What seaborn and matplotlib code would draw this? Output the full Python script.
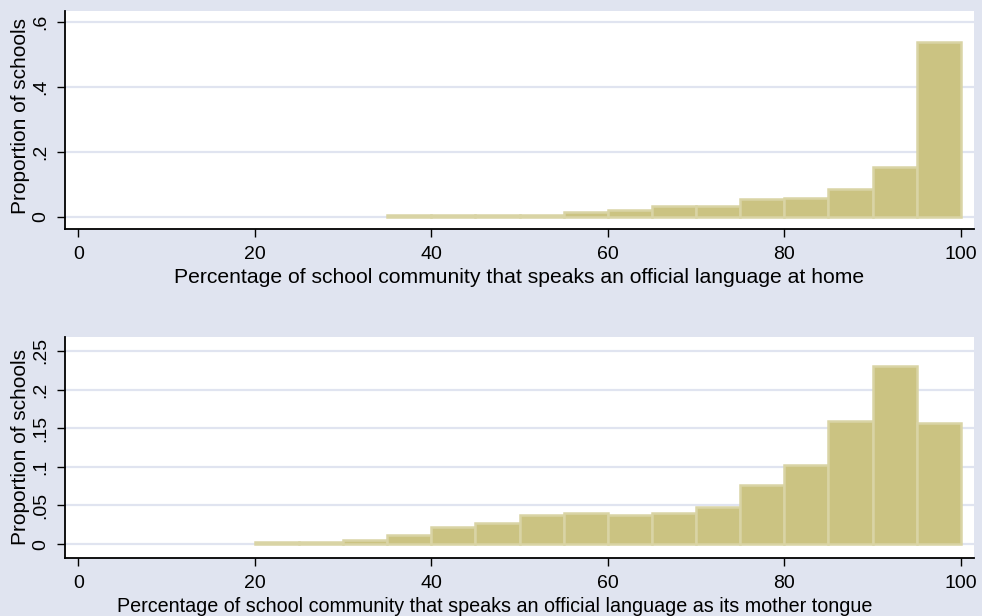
import numpy as np
import pandas as pd
import matplotlib
matplotlib.use("Agg")
import matplotlib.pyplot as plt
import seaborn as sns

# Share of schools per 5-point bin of the school community's language profile
home_bin_start = [35, 40, 45, 50, 55, 60, 65, 70, 75, 80, 85, 90, 95]
home_props = [0.005, 0.005, 0.005, 0.005, 0.015, 0.022, 0.035, 0.035,
              0.055, 0.060, 0.085, 0.155, 0.540]

mother_bin_start = [20, 25, 30, 35, 40, 45, 50, 55, 60, 65, 70, 75, 80, 85, 90, 95]
mother_props = [0.003, 0.003, 0.005, 0.012, 0.022, 0.027, 0.037, 0.040,
                0.037, 0.040, 0.048, 0.076, 0.102, 0.159, 0.230, 0.157]

bin_width = 5
x_ticks = [0, 20, 40, 60, 80, 100]
home_yticks = [0, 0.2, 0.4, 0.6]
home_yticklabels = ["0", ".2", ".4", ".6"]
mother_yticks = [0, 0.05, 0.10, 0.15, 0.20, 0.25]
mother_yticklabels = ["0", ".05", ".1", ".15", ".2", ".25"]

home_xlabel = "Percentage of school community that speaks an official language at home"
mother_xlabel = "Percentage of school community that speaks an official language as its mother tongue"
ylabel = "Proportion of schools"

BG = "#E0E4F0"
FILL = "#CBC382"
EDGE = "#D9D4A5"
TICK_SIZE = 14
YLABEL_SIZE = 15

sns.set_theme(style="white")
plt.rcParams["font.family"] = ["Liberation Sans", "DejaVu Sans"]

fig = plt.figure(figsize=(9.82, 6.16), dpi=100, facecolor=BG)
ax1 = fig.add_axes([0.0662, 0.6282, 0.9257, 0.3539])
ax2 = fig.add_axes([0.0662, 0.0942, 0.9257, 0.3587])


def draw_panel(ax, starts, props, yticks, yticklabels, ylim,
               xlabel, xlabel_size, xlabel_xy, ylabel_y):
    df = pd.DataFrame({"value": np.array(starts, dtype=float) + bin_width / 2,
                       "prop": props})
    ax.set_facecolor("white")
    ax.set_axisbelow(True)
    ax.grid(axis="y", color=BG, linewidth=1.6)
    ax.grid(axis="x", visible=False)
    sns.histplot(data=df, x="value", weights="prop", binwidth=bin_width,
                 binrange=(starts[0], starts[-1] + bin_width), ax=ax,
                 color=FILL, alpha=1, edgecolor=EDGE, linewidth=1.8,
                 stat="count", zorder=2)
    ax.set_xlim(-1.5, 101.5)
    ax.set_ylim(*ylim)
    ax.set_xticks(x_ticks)
    ax.set_xticklabels([str(t) for t in x_ticks])
    ax.set_yticks(yticks)
    ax.set_yticklabels(yticklabels, rotation=90, va="center")
    for side in ("top", "right"):
        ax.spines[side].set_visible(False)
    for side in ("left", "bottom"):
        ax.spines[side].set_color("black")
        ax.spines[side].set_linewidth(1.3)
    ax.tick_params(axis="both", direction="out", length=5.5, width=1,
                   color="black", labelsize=TICK_SIZE, labelcolor="black",
                   left=True, bottom=True)
    ax.tick_params(axis="x", pad=6.5)
    ax.tick_params(axis="y", pad=6.2)
    ax.set_xlabel(xlabel, fontsize=xlabel_size, color="black")
    ax.xaxis.set_label_coords(*xlabel_xy)
    ax.set_ylabel(ylabel, fontsize=YLABEL_SIZE, color="black")
    ax.yaxis.set_label_coords(-0.039, ylabel_y)


draw_panel(ax1, home_bin_start, home_props, home_yticks, home_yticklabels,
           (-0.037, 0.634), home_xlabel, 15.2, (0.5, -0.179), 0.52)
draw_panel(ax2, mother_bin_start, mother_props, mother_yticks, mother_yticklabels,
           (-0.018, 0.268), mother_xlabel, 14.2, (0.4725, -0.176), 0.5)

fig.savefig("out.png", dpi=100, facecolor=BG)
